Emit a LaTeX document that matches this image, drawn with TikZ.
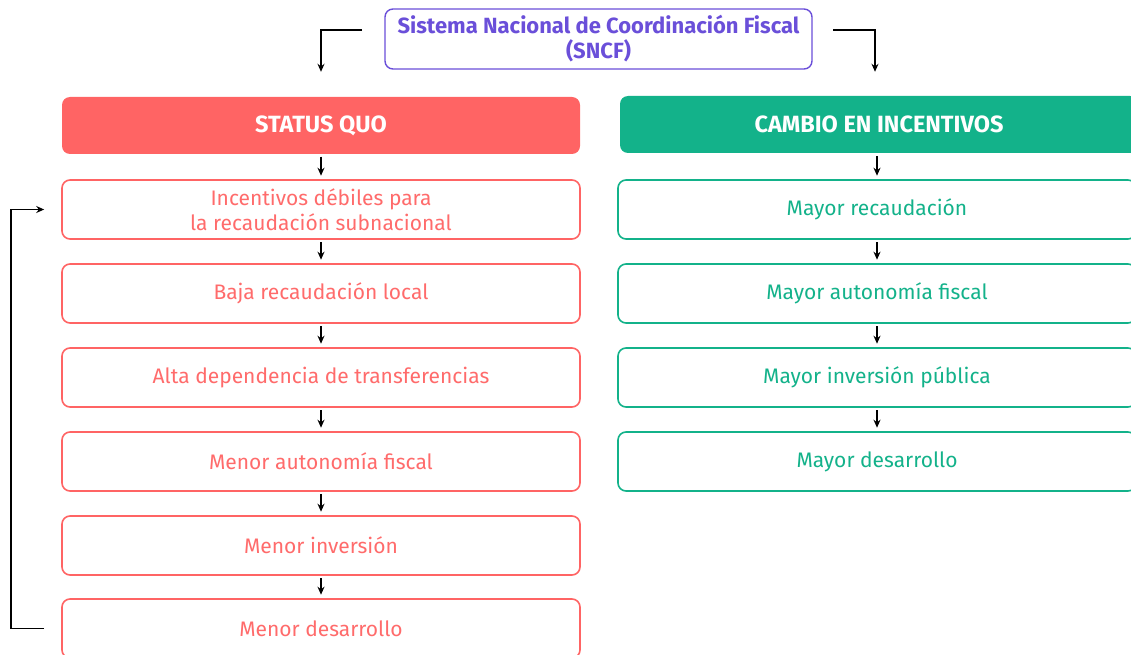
\documentclass[tikz,border=0pt]{standalone}
\usepackage{fontspec}
\setmainfont{Fira Sans}
\usetikzlibrary{arrows.meta,calc}
\definecolor{sqred}{HTML}{FF6464}
\definecolor{sqtext}{HTML}{FF6B6B}
\definecolor{cigreen}{HTML}{13B28A}
\definecolor{sncfpurple}{HTML}{6A4FD9}
\tikzset{
  box/.style={draw, line width=1.6pt, rounded corners=8pt, minimum width=518pt, minimum height=59pt, align=center, inner sep=0pt, font=\fontsize{21}{25}\selectfont},
  redbox/.style={box, draw=sqred, text=sqtext, fill=white},
  greenbox/.style={box, draw=cigreen, text=cigreen, fill=white},
  header/.style={rounded corners=8pt, minimum width=518pt, minimum height=57pt, inner sep=0pt, text=white, font=\fontsize{23.5}{26}\selectfont\bfseries},
  arr/.style={-{Stealth[length=8pt,width=7pt]}, line width=1.9pt, black},
}
\begin{document}
\begin{tikzpicture}[x=1pt,y=-1pt]
\useasboundingbox (0,0) rectangle (1131,655);
\node[draw=sncfpurple, line width=1.4pt, rounded corners=8pt, minimum width=427pt, minimum height=60pt, align=center, inner sep=0pt, text=sncfpurple, font=\fontsize{22}{25}\selectfont\bfseries] (sncf) at (598.5,39) {Sistema Nacional de Coordinación Fiscal\\(SNCF)};
\node[header, fill=sqred] (sq) at (321,125.5) {STATUS QUO};
\node[header, fill=cigreen] (ci) at (879,124.5) {CAMBIO EN INCENTIVOS};
\node[redbox] (l1) at (321,209.5) {Incentivos débiles para\\la recaudación subnacional};
\node[redbox] (l2) at (321,293.5) {Baja recaudación local};
\node[redbox] (l3) at (321,377.5) {Alta dependencia de transferencias};
\node[redbox] (l4) at (321,461.5) {Menor autonomía fiscal};
\node[redbox] (l5) at (321,545.5) {Menor inversión};
\node[redbox] (l6) at (321,628.5) {Menor desarrollo};
\node[greenbox] (r1) at (877,209.5) {Mayor recaudación};
\node[greenbox] (r2) at (877,293.5) {Mayor autonomía fiscal};
\node[greenbox] (r3) at (877,377.5) {Mayor inversión pública};
\node[greenbox] (r4) at (877,461.5) {Mayor desarrollo};
\coordinate (ls) at (362,30);
\coordinate (rs) at (833,30);
\draw[arr, shorten >=25pt] (ls) -| (sq.north);
\draw[arr, shorten >=24pt] (rs) -| ($(ci.north)+(-4,0)$);
\foreach \a/\b in {sq/l1,l1/l2,l2/l3,l3/l4,l4/l5,l5/l6,r1/r2,r2/r3,r3/r4}
  \draw[arr, shorten <=2.5pt, shorten >=3.5pt] (\a.south) -- (\b.north);
\draw[arr, shorten <=3pt, shorten >=3.5pt] ($(ci.south)+(-2,0)$) -- (r1.north);
\draw[arr, shorten <=17pt, shorten >=17pt] (l6.west) -- ++(-50,0) |- (l1.west);
\end{tikzpicture}
\end{document}
